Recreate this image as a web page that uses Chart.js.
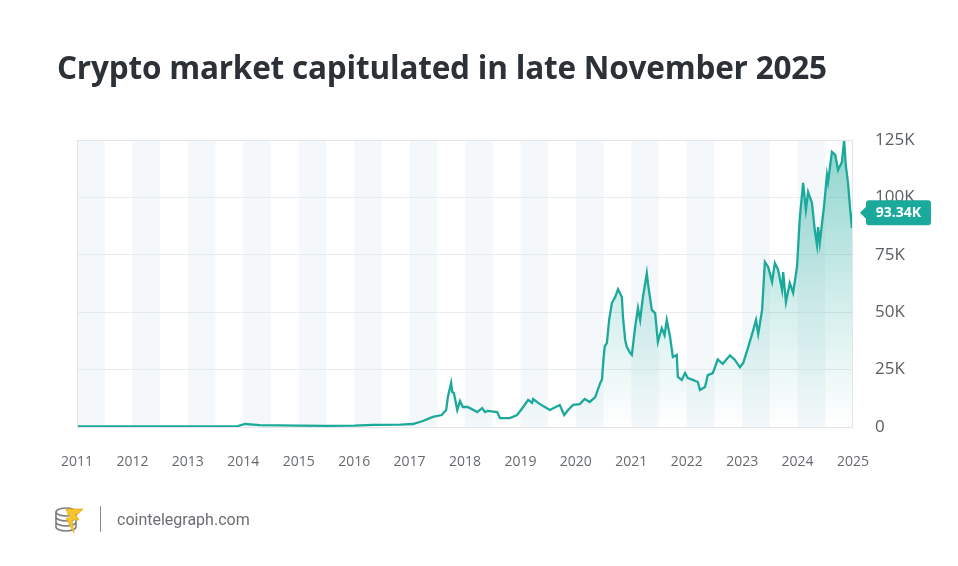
<!DOCTYPE html>
<html>
<head>
<meta charset="utf-8">
<script src="https://cdn.jsdelivr.net/npm/chart.js@4.4.1/dist/chart.umd.min.js"></script>
<style>
  body { margin: 0; background: #fff; width: 958px; height: 566px; overflow: hidden; font-family: "Open Sans", sans-serif; }
  #wrap { position: absolute; left: 0; top: 0; width: 958px; height: 566px; }
  h1 { position: absolute; left: 57px; top: 45px; margin: 0; font-size: 31.5px; font-weight: 700; color: #2b3136; letter-spacing: -0.2px; }
  .foot { position: absolute; left: 54px; top: 503px; height: 32px; display: flex; align-items: center; }
  .sep { width: 1px; height: 26px; background: #8a8d90; margin: 0 16px 0 14px; }
  .site { font-family: Roboto, sans-serif; font-size: 16px; color: #6b6f73; }
</style>
</head>
<body>
<div id="wrap"><canvas id="graficoCripto"></canvas></div>
<h1>Crypto market capitulated in late November 2025</h1>
<div class="foot">
  <svg width="32" height="30" viewBox="0 0 32 30">
    <g fill="#fff" stroke="#7b7e80" stroke-width="1.6">
      <path d="M2 19 v4 a10 4 0 0 0 20 0 v-4"/>
      <path d="M2 13 v5 a10 4 0 0 0 20 0 v-5"/>
      <path d="M2 8 v5 a10 4 0 0 0 20 0 v-5"/>
      <ellipse cx="12" cy="8" rx="10" ry="4"/>
    </g>
    <path d="M12 5 L29 5 L24 10 L21 10 L25 16 L18 16 L20 29 L12 14 L17 14 L14 10 Z" fill="#f5c52c" stroke="#e9a81c" stroke-width="0.8"/>
  </svg>
  <div class="sep"></div>
  <div class="site">cointelegraph.com</div>
</div>
<script>
// posição no eixo (anos) e preço em milhares de dólares
const datas = [
  2011.00, 2012.00, 2013.00, 2013.90, 2014.03, 2014.30, 2015.00, 2015.50, 2016.00, 2016.34,
  2016.83, 2017.06, 2017.24, 2017.42, 2017.58, 2017.66, 2017.69, 2017.75, 2017.77, 2017.80,
  2017.86, 2017.91, 2017.96, 2018.05, 2018.22, 2018.31, 2018.36, 2018.41, 2018.58, 2018.63,
  2018.81, 2018.94, 2019.05, 2019.14, 2019.21, 2019.23, 2019.32, 2019.41, 2019.53, 2019.71,
  2019.79, 2019.86, 2019.95, 2020.07, 2020.16, 2020.25, 2020.35, 2020.44, 2020.47, 2020.50,
  2020.52, 2020.56, 2020.60, 2020.65, 2020.71, 2020.76, 2020.83, 2020.85, 2020.89, 2020.92,
  2020.98, 2021.01, 2021.07, 2021.12, 2021.16, 2021.21, 2021.28, 2021.30, 2021.37, 2021.43,
  2021.48, 2021.55, 2021.60, 2021.64, 2021.70, 2021.75, 2021.82, 2021.84, 2021.91, 2021.97,
  2022.02, 2022.11, 2022.20, 2022.24, 2022.33, 2022.38, 2022.47, 2022.56, 2022.65, 2022.78,
  2022.87, 2022.96, 2023.02, 2023.11, 2023.20, 2023.25, 2023.29, 2023.36, 2023.41, 2023.47,
  2023.54, 2023.59, 2023.65, 2023.72, 2023.74, 2023.79, 2023.86, 2023.92, 2023.99, 2024.04,
  2024.10, 2024.15, 2024.19, 2024.26, 2024.31, 2024.35, 2024.37, 2024.40, 2024.48, 2024.53,
  2024.55, 2024.62, 2024.68, 2024.73, 2024.80, 2024.84, 2024.87, 2024.91, 2024.95, 2024.98,
  2025.00
];
const precos = [
  0.3, 0.3, 0.3, 0.4, 1.3, 0.8, 0.6, 0.5, 0.6, 0.9,
  1.0, 1.3, 2.6, 4.4, 5.2, 7.4, 13.0, 19.2, 15.2, 14.8,
  7.4, 11.3, 8.7, 8.7, 6.5, 8.2, 6.5, 7.0, 6.5, 3.9,
  3.9, 5.2, 8.7, 11.8, 10.5, 12.2, 10.5, 9.1, 7.4, 9.6,
  5.2, 7.4, 9.6, 10.0, 12.2, 10.9, 13.0, 19.2, 20.5, 30.0,
  35.0, 36.6, 46.6, 54.0, 56.6, 60.0, 56.6, 47.9, 37.9, 34.8,
  32.2, 31.4, 43.5, 51.8, 46.6, 56.6, 67.0, 62.7, 51.0, 49.6,
  37.0, 43.1, 40.0, 46.6, 39.2, 30.5, 31.4, 21.8, 20.5, 23.5,
  21.3, 20.5, 19.6, 16.1, 17.4, 22.6, 23.5, 29.4, 27.5, 31.2,
  29.2, 26.0, 27.9, 34.8, 42.2, 46.6, 40.5, 51.0, 71.9, 69.7,
  63.2, 71.4, 68.4, 59.7, 67.5, 54.4, 62.7, 58.4, 69.7, 91.0,
  106.3, 94.5, 102.4, 97.6, 85.8, 79.3, 87.1, 80.1, 96.7, 109.8,
  106.7, 119.8, 118.5, 111.9, 115.4, 125.0, 114.1, 106.3, 94.5, 86.7,
  93.34
];
const anos = [2011, 2012, 2013, 2014, 2015, 2016, 2017, 2018, 2019, 2020, 2021, 2022, 2023, 2024, 2025];
const valoresEixo = [0, 25, 50, 75, 100, 125];

const verde = '#1ba99b';

// faixas claras na primeira metade de cada ano + borda da área
const faixas = {
  id: 'faixas',
  beforeDatasetsDraw(chart) {
    const { ctx, chartArea: a, scales: { x } } = chart;
    ctx.save();
    ctx.fillStyle = 'rgba(225,236,241,0.36)';
    anos.slice(0, -1).forEach(ano => {
      const x1 = x.getPixelForValue(ano), x2 = x.getPixelForValue(ano + 0.5);
      ctx.fillRect(x1, a.top, x2 - x1, a.bottom - a.top);
    });
    ctx.restore();
  },
  afterDatasetsDraw(chart) {
    const { ctx, chartArea: a } = chart;
    ctx.save();
    ctx.strokeStyle = '#e2e6e8';
    ctx.lineWidth = 1;
    ctx.strokeRect(a.left + 0.5, a.top + 0.5, a.right - a.left - 1, a.bottom - a.top);
    ctx.restore();
  }
};

// etiqueta com o último valor
const etiqueta = {
  id: 'etiqueta',
  afterDraw(chart) {
    const { ctx, scales: { y } } = chart;
    const valor = precos[precos.length - 1];
    const py = y.getPixelForValue(valor);
    const x0 = 866, w = 65, h = 25, r = 3;
    ctx.save();
    ctx.fillStyle = verde;
    ctx.beginPath();
    ctx.moveTo(x0 + r, py - h / 2);
    ctx.lineTo(x0 + w - r, py - h / 2);
    ctx.quadraticCurveTo(x0 + w, py - h / 2, x0 + w, py - h / 2 + r);
    ctx.lineTo(x0 + w, py + h / 2 - r);
    ctx.quadraticCurveTo(x0 + w, py + h / 2, x0 + w - r, py + h / 2);
    ctx.lineTo(x0 + r, py + h / 2);
    ctx.quadraticCurveTo(x0, py + h / 2, x0, py + h / 2 - r);
    ctx.lineTo(x0, py + 6);
    ctx.lineTo(x0 - 6, py);
    ctx.lineTo(x0, py - 6);
    ctx.lineTo(x0, py - h / 2 + r);
    ctx.quadraticCurveTo(x0, py - h / 2, x0 + r, py - h / 2);
    ctx.fill();
    ctx.fillStyle = '#fff';
    ctx.font = 'bold 14px "Open Sans"';
    ctx.textAlign = 'center';
    ctx.textBaseline = 'middle';
    ctx.fillText(valor.toFixed(2) + 'K', x0 + w / 2, py);
    ctx.restore();
  }
};

const graficoCripto = document.getElementById('graficoCripto');
const graficoParaCripto = new Chart(graficoCripto, {
  type: 'line',
  data: {
    datasets: [{
      label: 'Crypto',
      data: datas.map((d, i) => ({ x: d, y: precos[i] })),
      borderColor: verde,
      borderWidth: 2.3,
      pointRadius: 0,
      tension: 0,
      fill: 'origin',
      backgroundColor: (context) => {
        const a = context.chart.chartArea;
        if (!a) return 'rgba(27,169,155,0.3)';
        const g = context.chart.ctx.createLinearGradient(0, a.top, 0, a.bottom);
        g.addColorStop(0, 'rgba(27,169,155,0.5)');
        g.addColorStop(0.55, 'rgba(27,169,155,0.2)');
        g.addColorStop(1, 'rgba(27,169,155,0.0)');
        return g;
      }
    }]
  },
  options: {
    responsive: true,
    maintainAspectRatio: false,
    animation: false,
    layout: { padding: { top: 140, left: 77, right: 0, bottom: 79 } },
    plugins: { legend: { display: false }, tooltip: { enabled: false } },
    scales: {
      x: {
        type: 'linear',
        min: 2011,
        max: 2025,
        afterBuildTicks: (axis) => { axis.ticks = anos.map(v => ({ value: v })); },
        afterFit: (axis) => { axis.height = 60; },
        grid: { display: false, drawTicks: false },
        border: { display: false },
        ticks: {
          padding: 27,
          color: '#666a6e',
          font: { family: 'Open Sans', size: 14 },
          maxRotation: 0,
          autoSkip: false,
          callback: (v) => String(v)
        }
      },
      y: {
        position: 'right',
        min: 0,
        max: 125,
        afterBuildTicks: (axis) => { axis.ticks = valoresEixo.map(v => ({ value: v })); },
        afterFit: (axis) => { axis.width = 105; },
        grid: { color: '#e8ecee', drawTicks: false },
        border: { display: false },
        ticks: {
          padding: 22,
          color: '#5a5f63',
          font: { family: 'Open Sans', size: 17 },
          callback: (v) => v === 0 ? '0' : v + 'K'
        }
      }
    }
  },
  plugins: [faixas, etiqueta]
});
</script>
</body>
</html>
